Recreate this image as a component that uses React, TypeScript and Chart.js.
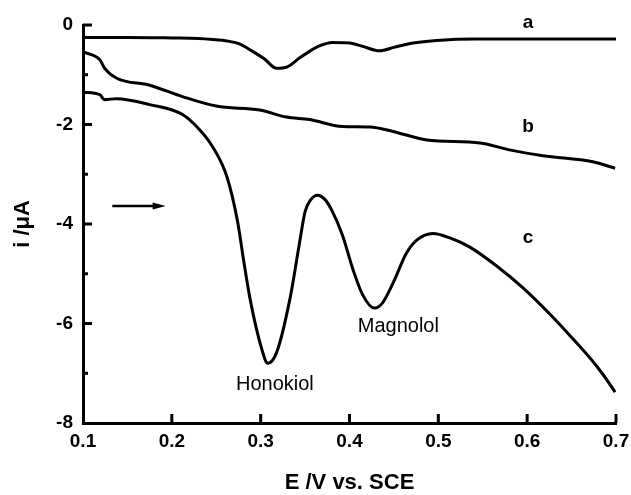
import { useEffect, useRef } from 'react';
import { Chart, registerables } from 'chart.js';

Chart.register(...registerables);

// Curve a
const potentialA = [0.100, 0.150, 0.200, 0.230, 0.246, 0.262, 0.276, 0.290, 0.304, 0.318, 0.330, 0.344, 0.355, 0.366, 0.381, 0.400, 0.415, 0.434, 0.450, 0.468, 0.498, 0.543, 0.600, 0.650, 0.700];
const currentA = [-0.25, -0.25, -0.26, -0.27, -0.29, -0.32, -0.38, -0.52, -0.68, -0.87, -0.84, -0.66, -0.53, -0.42, -0.35, -0.36, -0.43, -0.52, -0.45, -0.37, -0.31, -0.28, -0.28, -0.28, -0.28];

// Curve b
const potentialB = [0.100, 0.119, 0.124, 0.138, 0.175, 0.212, 0.250, 0.299, 0.329, 0.355, 0.392, 0.423, 0.449, 0.487, 0.547, 0.580, 0.618, 0.674, 0.699];
const currentB = [-0.54, -0.70, -0.86, -1.07, -1.21, -1.44, -1.63, -1.71, -1.85, -1.90, -2.04, -2.05, -2.14, -2.31, -2.37, -2.51, -2.63, -2.75, -2.88];

// Curve c
const potentialC = [0.100, 0.119, 0.124, 0.138, 0.175, 0.212, 0.231, 0.246, 0.262, 0.274, 0.281, 0.288, 0.301, 0.308, 0.318, 0.333, 0.344, 0.350, 0.356, 0.364, 0.372, 0.380, 0.392, 0.404, 0.415, 0.428, 0.437, 0.449, 0.464, 0.476, 0.494, 0.513, 0.535, 0.566, 0.595, 0.626, 0.648, 0.671, 0.686, 0.699];
const currentC = [-1.35, -1.40, -1.50, -1.48, -1.60, -1.80, -2.10, -2.45, -3.05, -3.95, -4.75, -5.50, -6.50, -6.80, -6.58, -5.50, -4.35, -3.75, -3.52, -3.42, -3.50, -3.72, -4.22, -4.92, -5.43, -5.69, -5.59, -5.19, -4.59, -4.32, -4.19, -4.28, -4.46, -4.85, -5.28, -5.82, -6.24, -6.70, -7.04, -7.38];

const xTickValues = [0.1, 0.2, 0.3, 0.4, 0.5, 0.6, 0.7];
const yMajorTickValues = [0, -2, -4, -6, -8];
const yMinorTickValues = [-1, -3, -5, -7];

const curveNames = ['a', 'b', 'c'];
const curveNameX = [0.601, 0.601, 0.601];
const curveNameY = [0.04, -2.05, -4.28];

const peakNames = ['Honokiol', 'Magnolol'];
const peakNameX = [0.316, 0.455];
const peakNameY = [-7.22, -6.07];

const arrowFrom = [0.133, -3.64];
const arrowTo = [0.193, -3.64];

const FONT = "'Liberation Sans', Arial, sans-serif";

function toPoints(xs: number[], ys: number[]) {
  return xs.map((x, i) => ({ x, y: ys[i] }));
}

const decorPlugin = {
  id: 'decor',
  afterDraw(chart: any) {
    const { ctx, scales } = chart;
    const xs = scales.x;
    const ys = scales.y;
    const x0 = xs.left;
    const yBottom = ys.bottom;
    ctx.save();
    ctx.strokeStyle = '#000';
    ctx.fillStyle = '#000';
    ctx.lineWidth = 3;
    ctx.lineCap = 'butt';
    xTickValues.forEach((v) => {
      if (Math.abs(v - xs.min) < 1e-9) return;
      const px = xs.getPixelForValue(v);
      ctx.beginPath();
      ctx.moveTo(px, yBottom);
      ctx.lineTo(px, yBottom - 9);
      ctx.stroke();
    });
    yMajorTickValues.forEach((v) => {
      if (Math.abs(v - ys.min) < 1e-9) return;
      const py = ys.getPixelForValue(v);
      ctx.beginPath();
      ctx.moveTo(x0, py);
      ctx.lineTo(x0 + 9, py);
      ctx.stroke();
    });
    yMinorTickValues.forEach((v) => {
      const py = ys.getPixelForValue(v);
      ctx.beginPath();
      ctx.moveTo(x0, py);
      ctx.lineTo(x0 + 5, py);
      ctx.stroke();
    });

    ctx.textAlign = 'center';
    ctx.textBaseline = 'middle';
    ctx.font = `bold 19px ${FONT}`;
    curveNames.forEach((t, i) => {
      ctx.fillText(t, xs.getPixelForValue(curveNameX[i]), ys.getPixelForValue(curveNameY[i]));
    });
    ctx.font = `20px ${FONT}`;
    peakNames.forEach((t, i) => {
      ctx.fillText(t, xs.getPixelForValue(peakNameX[i]), ys.getPixelForValue(peakNameY[i]));
    });

    const ax1 = xs.getPixelForValue(arrowFrom[0]);
    const ay1 = ys.getPixelForValue(arrowFrom[1]);
    const ax2 = xs.getPixelForValue(arrowTo[0]);
    const ay2 = ys.getPixelForValue(arrowTo[1]);
    ctx.lineWidth = 2.5;
    ctx.beginPath();
    ctx.moveTo(ax1, ay1);
    ctx.lineTo(ax2 - 8, ay2);
    ctx.stroke();
    ctx.beginPath();
    ctx.moveTo(ax2, ay2);
    ctx.lineTo(ax2 - 13, ay2 - 3.5);
    ctx.lineTo(ax2 - 13, ay2 + 3.5);
    ctx.closePath();
    ctx.fill();
    ctx.restore();
  },
};

export default function App() {
  const canvasRef = useRef<HTMLCanvasElement | null>(null);

  useEffect(() => {
    document.body.style.margin = '0';
    const canvas = canvasRef.current;
    if (!canvas) return;
    const lineStyle = {
      borderColor: '#000',
      borderWidth: 3,
      pointRadius: 0,
      fill: false,
      cubicInterpolationMode: 'monotone' as const,
    };
    const chart = new Chart(canvas, {
      type: 'line',
      data: {
        datasets: [
          { label: 'a', data: toPoints(potentialA, currentA), ...lineStyle },
          { label: 'b', data: toPoints(potentialB, currentB), ...lineStyle },
          { label: 'c', data: toPoints(potentialC, currentC), ...lineStyle },
        ],
      },
      options: {
        animation: false,
        responsive: false,
        devicePixelRatio: 1,
        layout: { padding: { left: 0, right: 15, top: 25, bottom: 0 } },
        plugins: {
          legend: { display: false },
          tooltip: { enabled: false },
        },
        scales: {
          x: {
            type: 'linear',
            min: 0.1,
            max: 0.7,
            afterFit: (s: any) => {
              s.height = 72;
              s.paddingLeft = 0;
              s.paddingRight = 0;
            },
            afterBuildTicks: (s: any) => { s.ticks = xTickValues.map((v) => ({ value: v })); },
            ticks: {
              color: '#000',
              padding: 7,
              font: { family: FONT, size: 19, weight: 'bold' },
              callback: (v: any) => Number(v).toFixed(1),
            },
            grid: { display: false, drawTicks: false },
            border: { display: true, color: '#000', width: 3 },
            title: {
              display: true,
              text: 'E /V vs. SCE',
              color: '#000',
              font: { family: FONT, size: 22, weight: 'bold', lineHeight: 1 },
              padding: { top: 0, bottom: 1 },
            },
          },
          y: {
            type: 'linear',
            min: -8,
            max: 0,
            afterFit: (s: any) => {
              s.width = 83;
              s.paddingTop = 0;
              s.paddingBottom = 0;
            },
            afterBuildTicks: (s: any) => { s.ticks = yMajorTickValues.map((v) => ({ value: v })); },
            ticks: {
              color: '#000',
              padding: 10,
              font: { family: FONT, size: 19, weight: 'bold' },
              callback: (v: any) => String(Math.round(Number(v))),
            },
            grid: { display: false, drawTicks: false },
            border: { display: true, color: '#000', width: 3 },
            title: {
              display: true,
              text: 'i /μA',
              color: '#000',
              font: { family: FONT, size: 22, weight: 'bold', lineHeight: 1 },
              padding: { top: 12, bottom: 0 },
            },
          },
        },
      },
      plugins: [decorPlugin],
    });
    return () => chart.destroy();
  }, []);

  return (
    <div style={{ position: 'fixed', left: 0, top: 0, width: 631, height: 495, background: '#fff' }}>
      <canvas ref={canvasRef} width={631} height={495} />
    </div>
  );
}
